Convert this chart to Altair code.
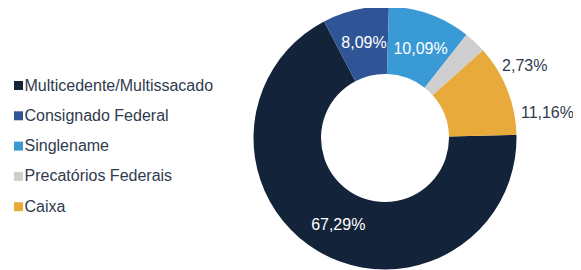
import math
import altair as alt
import pandas as pd

# ---- data (legend order) ----
categories = ["Multicedente/Multissacado", "Consignado Federal", "Singlename",
              "Precatórios Federais", "Caixa"]
shares = [67.29, 8.09, 10.09, 2.73, 11.16]
# clockwise position of each slice starting at 12 o'clock
slice_order = [4, 5, 1, 2, 3]
colors = ["#13233a", "#2f5597", "#3a9ad6", "#d0cfcf", "#e8aa3b"]

df = pd.DataFrame({"cat": categories, "share": shares, "ord": slice_order})

FONT = "Liberation Sans"
TEXT_DARK = "#2f3b4d"
CX, CY = 377, 130
R_OUT, R_IN = 131.5, 64
START = 0.03

theta = alt.Theta("share:Q", stack=True,
                  scale=alt.Scale(range=[START, START + 2 * math.pi]))

base = alt.Chart(df).encode(
    theta=theta,
    order=alt.Order("ord:Q"),
    x=alt.value(CX),
    y=alt.value(CY),
).transform_calculate(
    label="replace(format(datum.share, '.2f'), '.', ',') + '%'"
)

color = alt.Color(
    "cat:N",
    scale=alt.Scale(domain=categories, range=colors),
    legend=alt.Legend(
        title=None, orient="none", legendX=2.5, legendY=69.5, padding=0,
        symbolType="square", symbolSize=81, symbolStrokeWidth=0,
        labelFontSize=16, labelFont=FONT, labelColor=TEXT_DARK,
        rowPadding=14.3, labelOffset={"expr": "-2"}, labelLimit=400,
    ),
)

arcs = base.mark_arc(outerRadius=R_OUT, innerRadius=R_IN).encode(color=color)

inside_offsets = {
    "Multicedente/Multissacado": (3, 3),
    "Consignado Federal": (1, 1),
    "Singlename": (2, 3),
}
inside_layers = []
for cat, (ddx, ddy) in inside_offsets.items():
    inside_layers.append(
        base.mark_text(
            radius=98, dx=ddx, dy=ddy, font=FONT, fontSize=16, color="white",
            align="center", baseline="middle",
        ).encode(
            text=alt.condition(alt.datum.cat == cat, "label:N", alt.value(""))
        )
    )

outside_offsets = {"Precatórios Federais": (37, 37), "Caixa": (23, 30)}
outside_layers = []
for cat, (ddx, ddy) in outside_offsets.items():
    outside_layers.append(
        base.mark_text(
            radius=150, dx=ddx, dy=ddy, font=FONT, fontSize=16, color=TEXT_DARK,
            align="center", baseline="middle",
        ).encode(
            text=alt.condition(alt.datum.cat == cat, "label:N", alt.value(""))
        )
    )

chart = alt.layer(arcs, *inside_layers, *outside_layers).properties(
    width=565, height=262, autosize="none", padding=0
).configure_view(stroke=None)

chart.save("out.html", embed_options={"renderer": "svg", "actions": False})
